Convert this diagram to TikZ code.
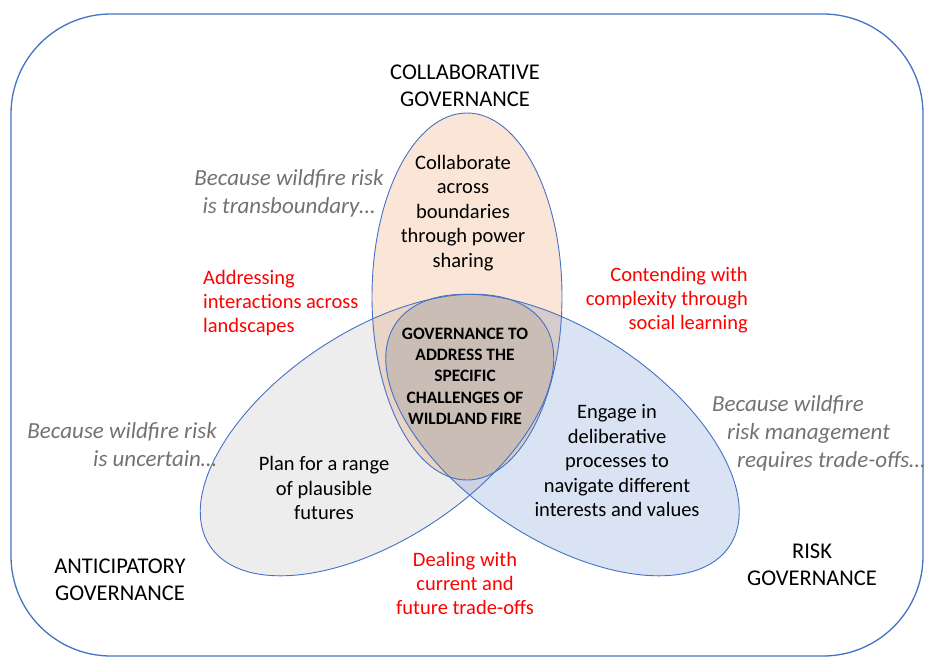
\documentclass[tikz,border=0pt]{standalone}
\usepackage{fontspec}
\setmainfont{Carlito}
\usepackage{xcolor}
\usepackage{tikz}
\definecolor{edgeblue}{HTML}{4472C4}
\definecolor{peachfill}{RGB}{251,229,214}
\definecolor{greyfill}{RGB}{237,237,237}
\definecolor{bluefill}{RGB}{218,227,243}
\definecolor{mixTL}{RGB}{233,213,199}
\definecolor{mixTR}{RGB}{215,204,204}
\definecolor{mixLR}{RGB}{203,211,226}
\definecolor{mixAll}{RGB}{202,189,182}
\definecolor{whygrey}{HTML}{767171}
\def\collabpath{(467,296.5) ellipse [x radius=95,y radius=183.5]}
\def\anticpath{(377,435) ellipse [x radius=200.6,y radius=104]}
\def\riskpath{(562.5,435) ellipse [x radius=200.6,y radius=104]}
\tikzset{
  anticrot/.style={rotate around={33.6:(377,435)}},
  riskrot/.style={rotate around={-33.6:(562.5,435)}},
  venn/.style={draw=edgeblue,line width=0.9pt},
  cat/.style={inner sep=0pt,align=center,font=\fontsize{22.5}{27.5}\selectfont},
  body/.style={inner sep=0pt,align=center,font=\fontsize{20.5}{24.5}\selectfont},
  core/.style={inner sep=0pt,align=center,font=\fontsize{17.4}{21.3}\selectfont\bfseries},
  why/.style={inner sep=0pt,align=center,text=whygrey,font=\fontsize{23}{28}\selectfont\itshape},
  link/.style={inner sep=0pt,align=center,text=red,font=\fontsize{20.5}{24}\selectfont}
}

\begin{document}
\begin{tikzpicture}[x=1pt,y=-1pt]
\useasboundingbox (0,0) rectangle (926,659);
\draw[edgeblue,line width=1.3pt,rounded corners=100pt] (11,14) rectangle (923,656);

\fill[peachfill] \collabpath;
\fill[greyfill,anticrot] \anticpath;
\fill[bluefill,riskrot] \riskpath;
\begin{scope}
\clip \collabpath;
\fill[mixTL,anticrot] \anticpath;
\fill[mixTR,riskrot] \riskpath;
\end{scope}
\begin{scope}
\clip[anticrot] \anticpath;
\fill[mixLR,riskrot] \riskpath;
\clip \collabpath;
\fill[mixAll,riskrot] \riskpath;
\end{scope}
\path[venn] \collabpath;
\path[venn,anticrot] \anticpath;
\path[venn,riskrot] \riskpath;

\node[cat] (collabcat) at (465,86) {COLLABORATIVE\\GOVERNANCE};
\node[cat] (anticcat) at (120,580) {ANTICIPATORY\\GOVERNANCE};
\node[cat] (riskcat) at (812,565) {RISK\\GOVERNANCE};

\node[why] (whycollab) at (289,193) {Because wildfire risk\\is transboundary…};
\node[why,align=right,anchor=east] (whyantic) at (217,445) {Because wildfire risk\\is uncertain…};
\node[why,align=left,anchor=west] (whyrisk) at (712,433) {Because wildfire\\\hspace*{15pt}risk management\\\hspace*{25pt}requires trade-offs…};

\node[body] (collabtxt) at (463,213) {Collaborate\\across\\boundaries\\through power\\sharing};
\node[body] (antictxt) at (324,488) {Plan for a range\\of plausible\\futures};
\node[body] (risktxt) at (617,461) {Engage in\\deliberative\\processes to\\navigate different\\interests and values};
\node[core] (core) at (465,376) {GOVERNANCE TO\\ADDRESS THE\\SPECIFIC\\CHALLENGES OF\\WILDLAND FIRE};

\node[link,align=left,anchor=west] (linkTL) at (203,303) {Addressing\\interactions across\\landscapes};
\node[link,align=right,anchor=east] (linkTR) at (748,300) {Contending with\\complexity through\\social learning};
\node[link] (linkLR) at (465,583) {Dealing with\\current and\\future trade-offs};
\end{tikzpicture}
\end{document}
